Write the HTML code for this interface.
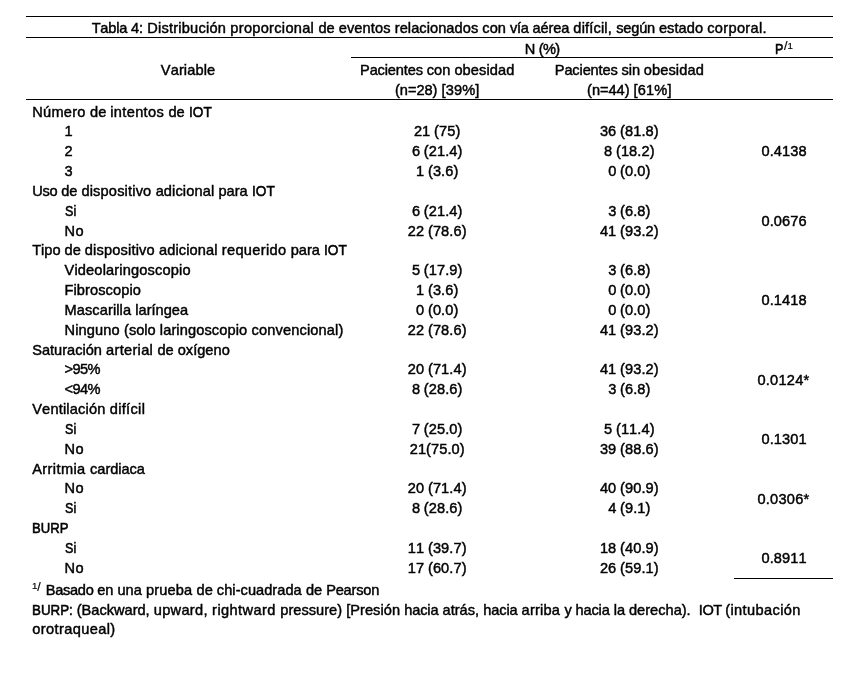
<!DOCTYPE html>
<html lang="es"><head><meta charset="utf-8"><title>Tabla 4</title>
<style>
html,body{margin:0;padding:0;background:#fff}
#t{position:relative;width:862px;height:692px;overflow:hidden;background:#fff;color:#000;
 font-family:"Liberation Sans",sans-serif;font-size:14.6px;line-height:0;font-kerning:none}
#g{position:absolute;left:0;top:0;width:862px;height:692px;will-change:transform;background:transparent;-webkit-text-stroke:0.45px #000}
.r{position:absolute;left:0;width:862px;height:0}
.x{position:absolute;white-space:pre;line-height:0;top:0;transform-origin:0 50%}
.h{position:absolute;height:0;border-top:1.3px solid #000}
</style></head><body><div id="t"><div id="g">
<div class="h" style="left:26px;width:807px;top:15.65px"></div>
<div class="h" style="left:26px;width:807px;top:36.65px"></div>
<div class="h" style="left:351px;width:482px;top:56.75px"></div>
<div class="h" style="left:26px;width:807px;top:98.85px"></div>
<div class="h" style="left:734px;width:99px;top:577.65px"></div>
<div class="r" style="top:27.94px"><span class="x" style="left:91.65px;letter-spacing:-0.206px">Tabla </span><span class="x" style="left:130.98px;letter-spacing:-0.005px">4: </span><span class="x" style="left:147.20px;letter-spacing:0.219px">Distribución </span><span class="x" style="left:230.34px;letter-spacing:0.293px">proporcional </span><span class="x" style="left:318.53px;letter-spacing:-0.016px">de </span><span class="x" style="left:338.78px;letter-spacing:0.096px">eventos </span><span class="x" style="left:394.72px;letter-spacing:0.064px">relacionados </span><span class="x" style="left:482.36px">con </span><span class="x" style="left:509.94px;letter-spacing:-0.266px">vía </span><span class="x" style="left:532.40px;letter-spacing:-0.070px">aérea </span><span class="x" style="left:573.37px;letter-spacing:0.161px">difícil, </span><span class="x" style="left:616.19px;letter-spacing:-0.185px">según </span><span class="x" style="left:658.90px;letter-spacing:0.062px">estado </span><span class="x" style="left:707.22px;letter-spacing:0.318px">corporal.</span></div>
<div class="r" style="top:48.64px"><span class="x" style="left:524.63px;letter-spacing:-0.234px">N </span><span class="x" style="left:538.75px;letter-spacing:-0.641px">(%)</span></div>
<div class="r" style="top:69.64px"><span class="x" style="left:160.80px;letter-spacing:0.121px">Variable</span></div>
<div class="r" style="top:69.64px"><span class="x" style="left:360.04px;letter-spacing:-0.138px">Pacientes </span><span class="x" style="left:426.82px">con </span><span class="x" style="left:454.40px;letter-spacing:0.103px">obesidad</span></div>
<div class="r" style="top:89.54px"><span class="x" style="left:394.97px;letter-spacing:-0.022px">(n=28) </span><span class="x" style="left:441.47px;letter-spacing:0.156px">[39%]</span></div>
<div class="r" style="top:69.64px"><span class="x" style="left:554.81px;letter-spacing:-0.138px">Pacientes </span><span class="x" style="left:621.59px;letter-spacing:-0.121px">sin </span><span class="x" style="left:643.82px;letter-spacing:0.103px">obesidad</span></div>
<div class="r" style="top:89.54px"><span class="x" style="left:587.07px;letter-spacing:-0.022px">(n=44) </span><span class="x" style="left:633.57px;letter-spacing:0.156px">[61%]</span></div>
<div class="r" style="top:111.56px"><span class="x" style="left:32.20px;letter-spacing:0.268px">Número </span><span class="x" style="left:90.04px;letter-spacing:-0.016px">de </span><span class="x" style="left:110.29px;letter-spacing:0.339px">intentos </span><span class="x" style="left:168.51px;letter-spacing:-0.016px">de </span><span class="x" style="left:188.76px;transform:scaleX(0.9338);-webkit-text-stroke-width:0.55px">IOT</span></div>
<div class="r" style="top:131.39px"><span class="x" style="left:64.50px;letter-spacing:0.094px">1</span></div>
<div class="r" style="top:131.39px"><span class="x" style="left:414.02px;letter-spacing:-0.068px">21 </span><span class="x" style="left:434.11px;letter-spacing:0.104px">(75)</span></div>
<div class="r" style="top:131.39px"><span class="x" style="left:599.97px;letter-spacing:-0.068px">36 </span><span class="x" style="left:620.07px;letter-spacing:0.087px">(81.8)</span></div>
<div class="r" style="top:151.22px"><span class="x" style="left:64.50px;letter-spacing:0.094px">2</span></div>
<div class="r" style="top:151.22px"><span class="x" style="left:411.97px;letter-spacing:-0.141px">6 </span><span class="x" style="left:423.86px;letter-spacing:0.087px">(21.4)</span></div>
<div class="r" style="top:151.22px"><span class="x" style="left:604.07px;letter-spacing:-0.141px">8 </span><span class="x" style="left:615.96px;letter-spacing:0.087px">(18.2)</span></div>
<div class="r" style="top:171.05px"><span class="x" style="left:64.50px;letter-spacing:0.094px">3</span></div>
<div class="r" style="top:171.05px"><span class="x" style="left:416.08px;letter-spacing:-0.141px">1 </span><span class="x" style="left:427.97px;letter-spacing:0.082px">(3.6)</span></div>
<div class="r" style="top:171.05px"><span class="x" style="left:608.18px;letter-spacing:-0.141px">0 </span><span class="x" style="left:620.07px;letter-spacing:0.082px">(0.0)</span></div>
<div class="r" style="top:190.88px"><span class="x" style="left:32.20px;letter-spacing:-0.266px">Uso </span><span class="x" style="left:61.15px;letter-spacing:-0.016px">de </span><span class="x" style="left:81.40px;letter-spacing:0.171px">dispositivo </span><span class="x" style="left:155.65px;letter-spacing:0.109px">adicional </span><span class="x" style="left:218.42px;letter-spacing:0.019px">para </span><span class="x" style="left:251.78px;transform:scaleX(0.9338);-webkit-text-stroke-width:0.55px">IOT</span></div>
<div class="r" style="top:210.71px"><span class="x" style="left:64.50px;transform:scaleX(0.8604);-webkit-text-stroke-width:0.55px">Si</span></div>
<div class="r" style="top:210.71px"><span class="x" style="left:411.97px;letter-spacing:-0.141px">6 </span><span class="x" style="left:423.86px;letter-spacing:0.087px">(21.4)</span></div>
<div class="r" style="top:210.71px"><span class="x" style="left:608.18px;letter-spacing:-0.141px">3 </span><span class="x" style="left:620.07px;letter-spacing:0.082px">(6.8)</span></div>
<div class="r" style="top:230.54px"><span class="x" style="left:64.50px;letter-spacing:0.359px">No</span></div>
<div class="r" style="top:230.54px"><span class="x" style="left:407.87px;letter-spacing:-0.068px">22 </span><span class="x" style="left:427.97px;letter-spacing:0.087px">(78.6)</span></div>
<div class="r" style="top:230.54px"><span class="x" style="left:599.97px;letter-spacing:-0.068px">41 </span><span class="x" style="left:620.07px;letter-spacing:0.087px">(93.2)</span></div>
<div class="r" style="top:250.37px"><span class="x" style="left:32.20px;letter-spacing:-0.022px">Tipo </span><span class="x" style="left:64.54px;letter-spacing:-0.016px">de </span><span class="x" style="left:84.79px;letter-spacing:0.171px">dispositivo </span><span class="x" style="left:159.04px;letter-spacing:0.109px">adicional </span><span class="x" style="left:221.81px;letter-spacing:0.317px">requerido </span><span class="x" style="left:290.70px;letter-spacing:0.019px">para </span><span class="x" style="left:324.06px;transform:scaleX(0.9338);-webkit-text-stroke-width:0.55px">IOT</span></div>
<div class="r" style="top:270.20px"><span class="x" style="left:64.50px;letter-spacing:0.162px">Videolaringoscopio</span></div>
<div class="r" style="top:270.20px"><span class="x" style="left:411.97px;letter-spacing:-0.141px">5 </span><span class="x" style="left:423.86px;letter-spacing:0.087px">(17.9)</span></div>
<div class="r" style="top:270.20px"><span class="x" style="left:608.18px;letter-spacing:-0.141px">3 </span><span class="x" style="left:620.07px;letter-spacing:0.082px">(6.8)</span></div>
<div class="r" style="top:290.03px"><span class="x" style="left:64.50px;letter-spacing:0.095px">Fibroscopio</span></div>
<div class="r" style="top:290.03px"><span class="x" style="left:416.08px;letter-spacing:-0.141px">1 </span><span class="x" style="left:427.97px;letter-spacing:0.082px">(3.6)</span></div>
<div class="r" style="top:290.03px"><span class="x" style="left:608.18px;letter-spacing:-0.141px">0 </span><span class="x" style="left:620.07px;letter-spacing:0.082px">(0.0)</span></div>
<div class="r" style="top:309.86px"><span class="x" style="left:64.50px;letter-spacing:0.095px">Mascarilla </span><span class="x" style="left:135.30px;letter-spacing:0.009px">laríngea</span></div>
<div class="r" style="top:309.86px"><span class="x" style="left:416.08px;letter-spacing:-0.141px">0 </span><span class="x" style="left:427.97px;letter-spacing:0.082px">(0.0)</span></div>
<div class="r" style="top:309.86px"><span class="x" style="left:608.18px;letter-spacing:-0.141px">0 </span><span class="x" style="left:620.07px;letter-spacing:0.082px">(0.0)</span></div>
<div class="r" style="top:329.69px"><span class="x" style="left:64.50px;letter-spacing:0.143px">Ninguno </span><span class="x" style="left:124.06px;letter-spacing:0.008px">(solo </span><span class="x" style="left:159.80px;letter-spacing:0.118px">laringoscopio </span><span class="x" style="left:251.52px;letter-spacing:0.147px">convencional)</span></div>
<div class="r" style="top:329.69px"><span class="x" style="left:407.87px;letter-spacing:-0.068px">22 </span><span class="x" style="left:427.97px;letter-spacing:0.087px">(78.6)</span></div>
<div class="r" style="top:329.69px"><span class="x" style="left:599.97px;letter-spacing:-0.068px">41 </span><span class="x" style="left:620.07px;letter-spacing:0.087px">(93.2)</span></div>
<div class="r" style="top:349.52px"><span class="x" style="left:32.20px">Saturación </span><span class="x" style="left:106.06px;letter-spacing:0.306px">arterial </span><span class="x" style="left:157.48px;letter-spacing:-0.016px">de </span><span class="x" style="left:177.73px;letter-spacing:0.016px">oxígeno</span></div>
<div class="r" style="top:369.35px"><span class="x" style="left:64.50px;letter-spacing:-0.552px">&gt;95%</span></div>
<div class="r" style="top:369.35px"><span class="x" style="left:407.87px;letter-spacing:-0.068px">20 </span><span class="x" style="left:427.97px;letter-spacing:0.087px">(71.4)</span></div>
<div class="r" style="top:369.35px"><span class="x" style="left:599.97px;letter-spacing:-0.068px">41 </span><span class="x" style="left:620.07px;letter-spacing:0.087px">(93.2)</span></div>
<div class="r" style="top:389.18px"><span class="x" style="left:64.50px;letter-spacing:-0.552px">&lt;94%</span></div>
<div class="r" style="top:389.18px"><span class="x" style="left:411.97px;letter-spacing:-0.141px">8 </span><span class="x" style="left:423.86px;letter-spacing:0.087px">(28.6)</span></div>
<div class="r" style="top:389.18px"><span class="x" style="left:608.18px;letter-spacing:-0.141px">3 </span><span class="x" style="left:620.07px;letter-spacing:0.082px">(6.8)</span></div>
<div class="r" style="top:409.01px"><span class="x" style="left:32.20px;letter-spacing:0.177px">Ventilación </span><span class="x" style="left:109.78px;letter-spacing:0.310px">difícil</span></div>
<div class="r" style="top:428.84px"><span class="x" style="left:64.50px;transform:scaleX(0.8604);-webkit-text-stroke-width:0.55px">Si</span></div>
<div class="r" style="top:428.84px"><span class="x" style="left:411.97px;letter-spacing:-0.141px">7 </span><span class="x" style="left:423.86px;letter-spacing:0.087px">(25.0)</span></div>
<div class="r" style="top:428.84px"><span class="x" style="left:604.07px;letter-spacing:-0.141px">5 </span><span class="x" style="left:615.96px;letter-spacing:0.087px">(11.4)</span></div>
<div class="r" style="top:448.67px"><span class="x" style="left:64.50px;letter-spacing:0.359px">No</span></div>
<div class="r" style="top:448.67px"><span class="x" style="left:409.71px;letter-spacing:0.089px">21(75.0)</span></div>
<div class="r" style="top:448.67px"><span class="x" style="left:599.97px;letter-spacing:-0.068px">39 </span><span class="x" style="left:620.07px;letter-spacing:0.087px">(88.6)</span></div>
<div class="r" style="top:468.50px"><span class="x" style="left:32.20px;letter-spacing:0.398px">Arritmia </span><span class="x" style="left:90.11px;letter-spacing:-0.042px">cardiaca</span></div>
<div class="r" style="top:488.33px"><span class="x" style="left:64.50px;letter-spacing:0.359px">No</span></div>
<div class="r" style="top:488.33px"><span class="x" style="left:407.87px;letter-spacing:-0.068px">20 </span><span class="x" style="left:427.97px;letter-spacing:0.087px">(71.4)</span></div>
<div class="r" style="top:488.33px"><span class="x" style="left:599.97px;letter-spacing:-0.068px">40 </span><span class="x" style="left:620.07px;letter-spacing:0.087px">(90.9)</span></div>
<div class="r" style="top:508.16px"><span class="x" style="left:64.50px;transform:scaleX(0.8604);-webkit-text-stroke-width:0.55px">Si</span></div>
<div class="r" style="top:508.16px"><span class="x" style="left:411.97px;letter-spacing:-0.141px">8 </span><span class="x" style="left:423.86px;letter-spacing:0.087px">(28.6)</span></div>
<div class="r" style="top:508.16px"><span class="x" style="left:608.18px;letter-spacing:-0.141px">4 </span><span class="x" style="left:620.07px;letter-spacing:0.082px">(9.1)</span></div>
<div class="r" style="top:527.99px"><span class="x" style="left:32.20px;transform:scaleX(0.8975);-webkit-text-stroke-width:0.55px">BURP</span></div>
<div class="r" style="top:547.82px"><span class="x" style="left:64.50px;transform:scaleX(0.8604);-webkit-text-stroke-width:0.55px">Si</span></div>
<div class="r" style="top:547.82px"><span class="x" style="left:407.87px;letter-spacing:-0.068px">11 </span><span class="x" style="left:427.97px;letter-spacing:0.087px">(39.7)</span></div>
<div class="r" style="top:547.82px"><span class="x" style="left:599.97px;letter-spacing:-0.068px">18 </span><span class="x" style="left:620.07px;letter-spacing:0.087px">(40.9)</span></div>
<div class="r" style="top:568.45px"><span class="x" style="left:64.50px;letter-spacing:0.359px">No</span></div>
<div class="r" style="top:568.45px"><span class="x" style="left:407.87px;letter-spacing:-0.068px">17 </span><span class="x" style="left:427.97px;letter-spacing:0.087px">(60.7)</span></div>
<div class="r" style="top:568.45px"><span class="x" style="left:599.97px;letter-spacing:-0.068px">26 </span><span class="x" style="left:620.07px;letter-spacing:0.087px">(59.1)</span></div>
<div class="r" style="top:151.22px"><span class="x" style="left:761.42px;letter-spacing:0.103px">0.4138</span></div>
<div class="r" style="top:220.63px"><span class="x" style="left:761.42px;letter-spacing:0.103px">0.0676</span></div>
<div class="r" style="top:299.95px"><span class="x" style="left:761.42px;letter-spacing:0.103px">0.1418</span></div>
<div class="r" style="top:379.72px"><span class="x" style="left:757.38px;letter-spacing:0.251px">0.0124*</span></div>
<div class="r" style="top:438.76px"><span class="x" style="left:761.42px;letter-spacing:0.103px">0.1301</span></div>
<div class="r" style="top:498.70px"><span class="x" style="left:757.38px;letter-spacing:0.251px">0.0306*</span></div>
<div class="r" style="top:557.74px"><span class="x" style="left:761.42px;letter-spacing:0.103px">0.8911</span></div>
<div class="r" style="top:590.04px"><span class="x" style="left:45.80px;letter-spacing:-0.308px">Basado </span><span class="x" style="left:97.21px;letter-spacing:-0.016px">en </span><span class="x" style="left:117.46px;letter-spacing:0.012px">una </span><span class="x" style="left:145.91px;letter-spacing:0.170px">prueba </span><span class="x" style="left:196.60px;letter-spacing:-0.016px">de </span><span class="x" style="left:216.85px;letter-spacing:0.046px">chi-cuadrada </span><span class="x" style="left:305.88px;letter-spacing:-0.016px">de </span><span class="x" style="left:326.13px;letter-spacing:-0.185px">Pearson</span></div>
<div class="r" style="top:610.04px"><span class="x" style="left:32.20px;transform:scaleX(0.9141);-webkit-text-stroke-width:0.55px">BURP: </span><span class="x" style="left:76.68px">(Backward, </span><span class="x" style="left:153.75px;letter-spacing:0.297px">upward, </span><span class="x" style="left:212.11px;letter-spacing:0.416px">rightward </span><span class="x" style="left:280.36px;letter-spacing:0.013px">pressure) </span><span class="x" style="left:346.19px;letter-spacing:0.039px">[Presión </span><span class="x" style="left:404.13px;letter-spacing:-0.099px">hacia </span><span class="x" style="left:442.49px;letter-spacing:0.025px">atrás, </span><span class="x" style="left:483.22px;letter-spacing:-0.099px">hacia </span><span class="x" style="left:521.58px;letter-spacing:0.204px">arriba </span><span class="x" style="left:564.38px;letter-spacing:-0.169px">y </span><span class="x" style="left:575.40px;letter-spacing:-0.099px">hacia </span><span class="x" style="left:613.76px;letter-spacing:-0.079px">la </span><span class="x" style="left:628.94px;letter-spacing:0.011px">derecha).  </span><span class="x" style="left:698.83px;letter-spacing:-0.491px">IOT </span><span class="x" style="left:725.26px;letter-spacing:0.374px">(intubación</span></div>
<div class="r" style="top:629.34px"><span class="x" style="left:32.20px;letter-spacing:0.396px">orotraqueal)</span></div>
<div class="r" style="top:48.64px"><span class="x" style="left:775.00px;transform:scaleX(0.8604);-webkit-text-stroke-width:0.55px">P</span></div>
<div class="r" style="top:46.30px"><span class="x" style="left:783.90px;font-size:12.4px;-webkit-text-stroke-width:0.2px">/</span></div>
<div class="r" style="top:45.54px"><span class="x" style="left:787.40px;font-size:9.7px;-webkit-text-stroke-width:0.2px">1</span></div>
<div class="r" style="top:586.34px"><span class="x" style="left:32.00px;font-size:9.7px;-webkit-text-stroke-width:0.2px">1</span></div>
<div class="r" style="top:587.20px"><span class="x" style="left:37.20px;font-size:12.4px;-webkit-text-stroke-width:0.2px">/</span></div>
</div></div></body></html>
